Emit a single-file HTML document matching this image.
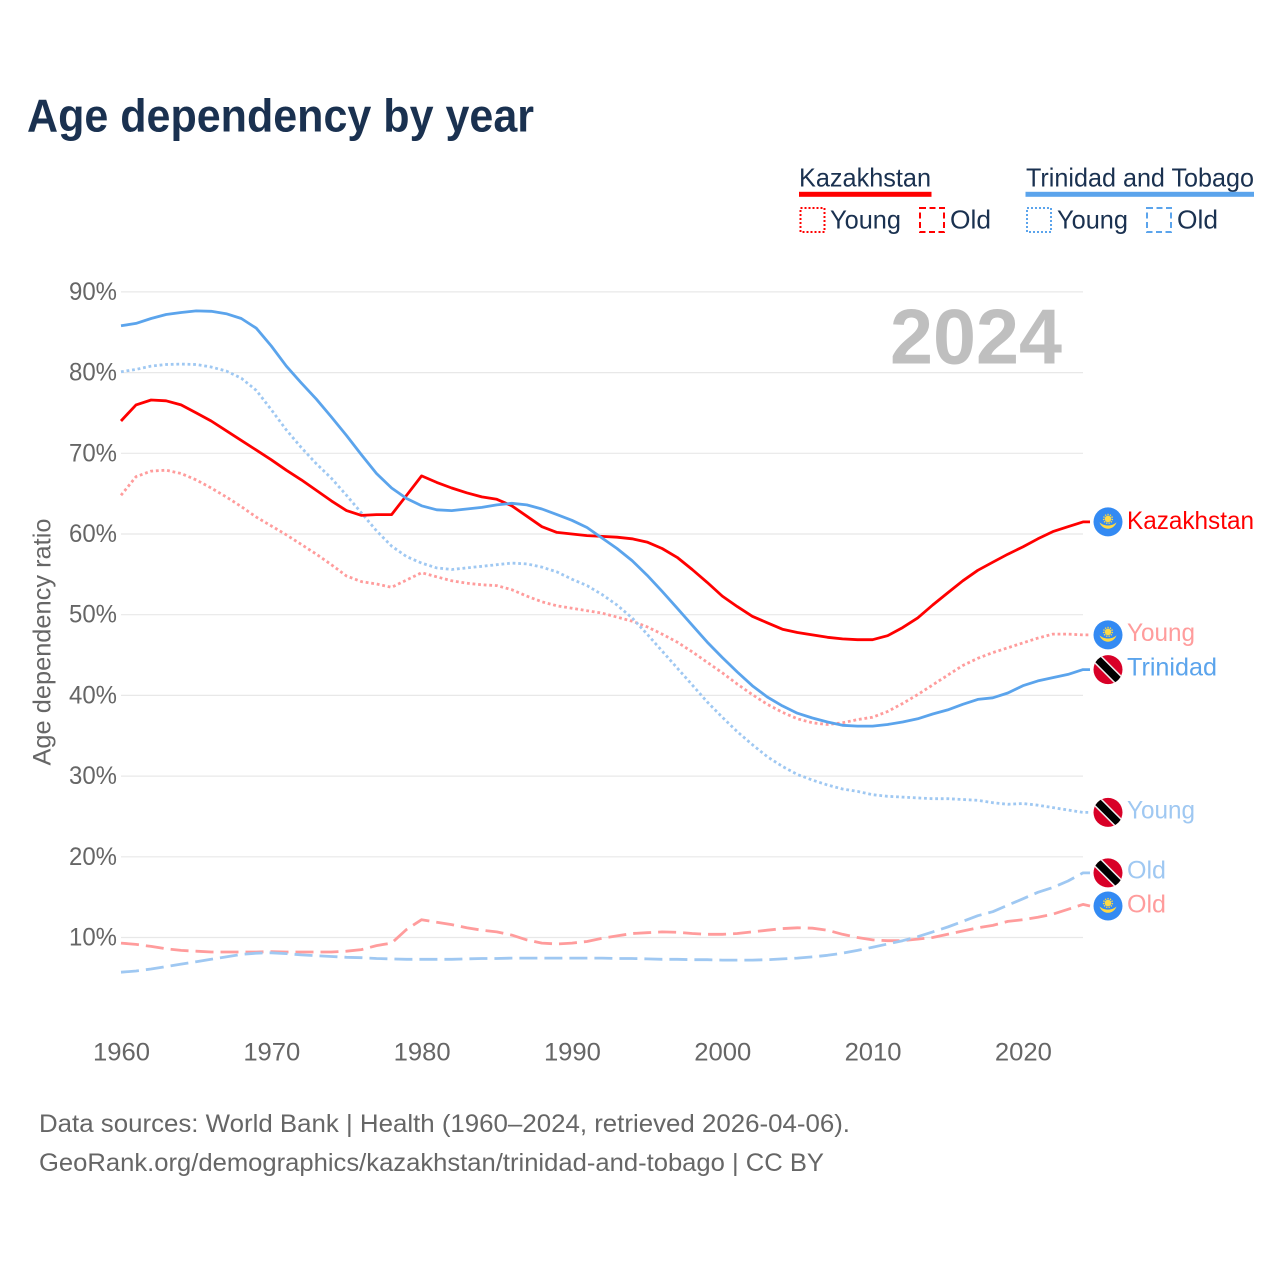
<!DOCTYPE html>
<html lang="en">
<head>
<meta charset="utf-8">
<title>Age dependency by year</title>
<style>
html,body{margin:0;padding:0;background:#fff;width:1280px;height:1280px;overflow:hidden}
svg{display:block}
text{font-family:"Liberation Sans",sans-serif}
</style>
</head>
<body>
<svg id="chart" xmlns="http://www.w3.org/2000/svg" width="1280" height="1280" viewBox="0 0 1280 1280">
  <rect x="0" y="0" width="1280" height="1280" fill="#ffffff"/>
  <text x="27" y="131.5" font-size="46" font-weight="700" fill="#1a3150" textLength="507" lengthAdjust="spacingAndGlyphs">Age dependency by year</text>

  <g fill="#1a3150" font-size="26">
    <text x="799" y="186.5" textLength="132" lengthAdjust="spacingAndGlyphs">Kazakhstan</text>
    <rect x="799" y="191.8" width="132.5" height="5" fill="#ff0000"/>
    <rect x="800.5" y="208" width="24" height="24" fill="none" stroke="#ff0000" stroke-width="2" stroke-dasharray="2 2"/>
    <text x="830" y="228.5" textLength="71" lengthAdjust="spacingAndGlyphs">Young</text>
    <rect x="920" y="208" width="24" height="24" fill="none" stroke="#ff0000" stroke-width="2" stroke-dasharray="6 3.5"/>
    <text x="950" y="228.5" textLength="41" lengthAdjust="spacingAndGlyphs">Old</text>

    <text x="1026" y="186.5" textLength="228" lengthAdjust="spacingAndGlyphs">Trinidad and Tobago</text>
    <rect x="1025.5" y="191.8" width="228.5" height="5" fill="#5ba4ec"/>
    <rect x="1027" y="208" width="24" height="24" fill="none" stroke="#5ba4ec" stroke-width="2" stroke-dasharray="2 2"/>
    <text x="1057" y="228.5" textLength="71" lengthAdjust="spacingAndGlyphs">Young</text>
    <rect x="1147" y="208" width="24" height="24" fill="none" stroke="#5ba4ec" stroke-width="2" stroke-dasharray="6 3.5"/>
    <text x="1177" y="228.5" textLength="41" lengthAdjust="spacingAndGlyphs">Old</text>
  </g>

  <g id="grid"></g>
  <g id="y-ticks"></g>
  <g id="x-ticks"></g>

  <text transform="translate(50.5 642) rotate(-90)" text-anchor="middle" font-size="25" fill="#666666" textLength="247" lengthAdjust="spacingAndGlyphs">Age dependency ratio</text>
  <text x="890" y="363.5" font-size="78" font-weight="700" fill="#bfbfbf" textLength="172" lengthAdjust="spacingAndGlyphs">2024</text>

  <g id="series"></g>

  <defs>
    <g id="flag-kz">
      <circle r="14.5" fill="#338af3"/>
      <circle cx="0" cy="-3" r="3.3" fill="#ffda44"/>
      <circle cx="0" cy="-3" r="4.4" fill="none" stroke="#ffda44" stroke-width="1.4" stroke-dasharray="1.3 1.2"/>
      <path d="M-8.5 0.5 C-5.5 3 -2.5 3.6 0 3.6 C2.5 3.6 5.5 3 8.5 0.5 C7 4.6 3.6 6.8 0 6.8 C-3.6 6.8 -7 4.6 -8.5 0.5 Z" fill="#ffda44"/>
    </g>
    <g id="flag-tt">
      <clipPath id="tt-clip"><circle r="14.5"/></clipPath>
      <circle r="14.5" fill="#d80027"/>
      <g clip-path="url(#tt-clip)">
        <line x1="-14" y1="-14" x2="14" y2="14" stroke="#f0f0f0" stroke-width="10.5"/>
        <line x1="-14" y1="-14" x2="14" y2="14" stroke="#000000" stroke-width="7.5"/>
      </g>
    </g>
  </defs>

  <g id="end-kz-total">
    <use href="#flag-kz" x="1108" y="0"/>
    <text x="1127" y="7" font-size="25" fill="#ff0000" textLength="127" lengthAdjust="spacingAndGlyphs">Kazakhstan</text>
  </g>
  <g id="end-kz-young">
    <use href="#flag-kz" x="1108" y="0"/>
    <text x="1127" y="6" font-size="25" fill="#ff9c9c" textLength="68" lengthAdjust="spacingAndGlyphs">Young</text>
  </g>
  <g id="end-tt-total">
    <use href="#flag-tt" x="1108" y="0"/>
    <text x="1127" y="6" font-size="25" fill="#5ba4ec" textLength="90" lengthAdjust="spacingAndGlyphs">Trinidad</text>
  </g>
  <g id="end-tt-young">
    <use href="#flag-tt" x="1108" y="0"/>
    <text x="1127" y="6" font-size="25" fill="#9fc8f2" textLength="68" lengthAdjust="spacingAndGlyphs">Young</text>
  </g>
  <g id="end-tt-old">
    <use href="#flag-tt" x="1108" y="0"/>
    <text x="1127" y="5.5" font-size="25" fill="#9fc8f2" textLength="39" lengthAdjust="spacingAndGlyphs">Old</text>
  </g>
  <g id="end-kz-old">
    <use href="#flag-kz" x="1108" y="0"/>
    <text x="1127" y="6.5" font-size="25" fill="#ff9c9c" textLength="39" lengthAdjust="spacingAndGlyphs">Old</text>
  </g>

  <g font-size="25" fill="#666666">
    <text x="39" y="1132" textLength="811" lengthAdjust="spacingAndGlyphs">Data sources: World Bank | Health (1960–2024, retrieved 2026-04-06).</text>
    <text x="39" y="1171" textLength="785" lengthAdjust="spacingAndGlyphs">GeoRank.org/demographics/kazakhstan/trinidad-and-tobago | CC BY</text>
  </g>
</svg>

<script>
var years = [
  1960,1961,1962,1963,1964,1965,1966,1967,1968,1969,
  1970,1971,1972,1973,1974,1975,1976,1977,1978,1979,
  1980,1981,1982,1983,1984,1985,1986,1987,1988,1989,
  1990,1991,1992,1993,1994,1995,1996,1997,1998,1999,
  2000,2001,2002,2003,2004,2005,2006,2007,2008,2009,
  2010,2011,2012,2013,2014,2015,2016,2017,2018,2019,
  2020,2021,2022,2023,2024
];
var kazakhstanTotal = [
  74.0,76.0,76.6,76.5,76.0,75.0,74.0,72.8,71.6,70.4,
  69.2,67.9,66.7,65.4,64.1,62.9,62.3,62.4,62.4,64.8,
  67.2,66.4,65.7,65.1,64.6,64.3,63.5,62.2,60.9,60.2,
  60.0,59.8,59.7,59.6,59.4,59.0,58.2,57.1,55.6,54.0,
  52.3,51.0,49.8,49.0,48.2,47.8,47.5,47.2,47.0,46.9,
  46.9,47.4,48.4,49.6,51.2,52.7,54.2,55.5,56.5,57.5,
  58.4,59.4,60.3,60.9,61.5
];
var kazakhstanYoung = [
  64.8,67.1,67.8,67.9,67.5,66.7,65.7,64.6,63.4,62.1,
  61.0,59.9,58.7,57.5,56.2,54.8,54.1,53.8,53.4,54.3,
  55.2,54.7,54.2,53.9,53.7,53.6,53.1,52.3,51.6,51.1,
  50.8,50.5,50.2,49.7,49.2,48.5,47.6,46.6,45.4,44.1,
  42.8,41.4,40.1,38.9,37.9,37.1,36.6,36.4,36.6,37.0,
  37.3,38.0,39.0,40.1,41.3,42.5,43.7,44.6,45.3,45.9,
  46.5,47.1,47.6,47.6,47.5
];
var kazakhstanOld = [
  9.3,9.15,8.9,8.6,8.4,8.3,8.2,8.2,8.2,8.2,
  8.25,8.2,8.2,8.2,8.2,8.3,8.5,9.0,9.3,11.0,
  12.2,11.9,11.6,11.2,10.9,10.7,10.3,9.7,9.3,9.2,
  9.3,9.5,9.9,10.2,10.5,10.6,10.7,10.65,10.5,10.4,
  10.4,10.5,10.7,10.9,11.1,11.2,11.15,10.9,10.4,10.0,
  9.7,9.6,9.6,9.8,10.0,10.4,10.8,11.2,11.5,12.0,
  12.2,12.5,12.9,13.5,14.1
];
var trinidadTotal = [
  85.8,86.1,86.7,87.2,87.45,87.65,87.6,87.3,86.7,85.5,
  83.3,80.8,78.7,76.7,74.5,72.2,69.8,67.5,65.7,64.4,
  63.5,63.0,62.9,63.1,63.3,63.6,63.8,63.6,63.1,62.4,
  61.7,60.8,59.5,58.2,56.7,54.9,52.9,50.8,48.7,46.6,
  44.7,42.9,41.2,39.8,38.7,37.8,37.2,36.7,36.3,36.2,
  36.2,36.4,36.7,37.1,37.7,38.2,38.9,39.5,39.7,40.3,
  41.2,41.8,42.2,42.6,43.2
];
var trinidadYoung = [
  80.1,80.4,80.8,81.0,81.05,81.0,80.7,80.2,79.3,77.8,
  75.4,72.9,70.7,68.7,66.9,64.8,62.6,60.4,58.5,57.2,
  56.4,55.8,55.6,55.8,56.0,56.2,56.4,56.3,55.9,55.3,
  54.4,53.6,52.5,51.2,49.6,47.6,45.5,43.4,41.3,39.2,
  37.3,35.5,33.9,32.4,31.2,30.2,29.5,28.9,28.4,28.1,
  27.7,27.5,27.4,27.3,27.2,27.2,27.1,27.0,26.7,26.5,
  26.6,26.4,26.1,25.8,25.5
];
var trinidadOld = [
  5.7,5.85,6.1,6.4,6.7,7.0,7.3,7.6,7.9,8.05,
  8.1,8.0,7.85,7.75,7.65,7.55,7.5,7.4,7.35,7.3,
  7.3,7.3,7.3,7.35,7.4,7.4,7.45,7.45,7.45,7.45,
  7.45,7.45,7.45,7.4,7.4,7.35,7.3,7.3,7.25,7.25,
  7.2,7.2,7.2,7.25,7.35,7.45,7.6,7.8,8.05,8.4,
  8.8,9.2,9.6,10.1,10.7,11.3,12.0,12.7,13.2,14.0,
  14.8,15.6,16.2,17.0,18.0
];
var yTickValues = [10,20,30,40,50,60,70,80,90];
var yTickLabels = ["10%","20%","30%","40%","50%","60%","70%","80%","90%"];
var xTickValues = [1960,1970,1980,1990,2000,2010,2020];
var xTickLabels = ["1960","1970","1980","1990","2000","2010","2020"];

var NS = 'http://www.w3.org/2000/svg';
var plotLeft = 121, plotRight = 1083, stubEnd = 1090;
function xScale(year) { return plotLeft + (year - 1960) * (plotRight - plotLeft) / 64; }
function yScale(v) { return 937.5 - (v - 10) * 8.07; }

var gridGroup = document.getElementById('grid');
var yTickGroup = document.getElementById('y-ticks');
var xTickGroup = document.getElementById('x-ticks');
var seriesGroup = document.getElementById('series');

yTickValues.forEach(function (v, i) {
  var gridline = document.createElementNS(NS, 'line');
  
  
  gridline.setAttribute('x1', plotLeft);
  gridline.setAttribute('x2', plotRight);
  gridline.setAttribute('y1', yScale(v));
  gridline.setAttribute('y2', yScale(v));
  gridline.setAttribute('stroke', '#e8e8e8');
  gridline.setAttribute('stroke-width', '1.2');
  gridGroup.appendChild(gridline);

  var label = document.createElementNS(NS, 'text');
  
  
  label.setAttribute('x', 69);
  label.setAttribute('y', yScale(v) + 8);
  label.setAttribute('font-size', '25');
  label.setAttribute('fill', '#666666');
  label.setAttribute('textLength', '48');
  label.setAttribute('lengthAdjust', 'spacingAndGlyphs');
  label.textContent = yTickLabels[i];
  yTickGroup.appendChild(label);
});

xTickValues.forEach(function (year, i) {
  var label = document.createElementNS(NS, 'text');
  
  
  label.setAttribute('x', xScale(year) - 28);
  label.setAttribute('y', 1060.5);
  label.setAttribute('font-size', '25');
  label.setAttribute('fill', '#666666');
  label.setAttribute('textLength', '57');
  label.setAttribute('lengthAdjust', 'spacingAndGlyphs');
  label.textContent = xTickLabels[i];
  xTickGroup.appendChild(label);
});

function addLine(values, color, dash, name, endId, nudge) {
  var pts = values.map(function (v, i) {
    return xScale(years[i]).toFixed(1) + ',' + yScale(v).toFixed(1);
  });
  var lastY = yScale(values[values.length - 1]);
  var flagY = lastY + nudge;
  var path = document.createElementNS(NS, 'polyline');
  
  
  path.setAttribute('points', pts.join(' ') + ' ' + stubEnd + ',' + flagY.toFixed(1));
  path.setAttribute('fill', 'none');
  path.setAttribute('stroke', color);
  path.setAttribute('stroke-width', '2.8');
  path.setAttribute('stroke-linejoin', 'round');
  if (dash) { path.setAttribute('stroke-dasharray', dash); }
  seriesGroup.appendChild(path);
  document.getElementById(endId).setAttribute('transform', 'translate(0 ' + flagY.toFixed(1) + ')');
}

addLine(kazakhstanOld, '#ff9c9c', '18 7', 'line-kazakhstan-old', 'end-kz-old', 1.6);
addLine(trinidadOld, '#9fc8f2', '18 7', 'line-trinidad-old', 'end-tt-old', 0);
addLine(kazakhstanYoung, '#ff9c9c', '2.8 2.8', 'line-kazakhstan-young', 'end-kz-young', 0);
addLine(trinidadYoung, '#9fc8f2', '2.8 2.8', 'line-trinidad-young', 'end-tt-young', 0);
addLine(kazakhstanTotal, '#ff0000', '', 'line-kazakhstan-total', 'end-kz-total', 0);
addLine(trinidadTotal, '#5ba4ec', '', 'line-trinidad-total', 'end-tt-total', 0);
</script>
</body>
</html>
